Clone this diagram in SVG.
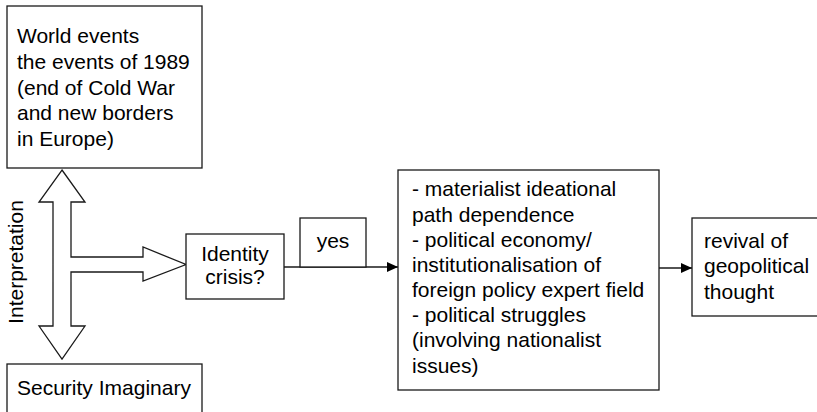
<svg xmlns="http://www.w3.org/2000/svg" width="817" height="412" viewBox="0 0 817 412">
<style>
.box{fill:#fff;stroke:#1a1a1a;stroke-width:1.3}
.t{font-family:"Liberation Sans",Arial,sans-serif;font-size:21px;fill:#000}
.ln{fill:none;stroke:#1a1a1a;stroke-width:1.3}
</style>
<defs>
<marker id="ah" viewBox="0 0 11 10" refX="11" refY="5" markerWidth="11" markerHeight="10" markerUnits="userSpaceOnUse" orient="auto">
<path d="M0,0 L11,5 L0,10 Z" fill="#000"/>
</marker>
</defs>
<rect width="817" height="412" fill="#fff"/>
<g id="connectors">
<polygon class="ln" points="62,170 85,202 71,202 71,257 143,257 143,247 186,264.5 143,281 143,272 71,272 71,326 85,326 62,359 39,326 53,326 53,202 39,202"/>
<line class="ln" x1="284" y1="267" x2="398" y2="267" marker-end="url(#ah)"/>
<line class="ln" x1="659" y1="268" x2="692" y2="268" marker-end="url(#ah)"/>
<text class="t" text-anchor="middle" transform="translate(23,262) rotate(-90)">Interpretation</text>
</g>
<g id="world">
<rect class="box" x="7" y="6" width="195" height="162"/>
<text class="t" x="17" y="43">World events</text>
<text class="t" x="17" y="69">the events of 1989</text>
<text class="t" x="17" y="95">(end of Cold War</text>
<text class="t" x="17" y="120">and new borders</text>
<text class="t" x="17" y="146">in Europe)</text>
</g>
<g id="security">
<rect class="box" x="7" y="364" width="195" height="60"/>
<text class="t" x="17" y="395">Security Imaginary</text>
</g>
<g id="identity">
<rect class="box" x="186" y="234" width="98" height="65"/>
<text class="t" x="235" y="261" text-anchor="middle">Identity</text>
<text class="t" x="235" y="284" text-anchor="middle">crisis?</text>
</g>
<g id="yes">
<rect class="box" x="300" y="218" width="66" height="49"/>
<text class="t" x="333" y="248" text-anchor="middle">yes</text>
</g>
<g id="factors">
<rect class="box" x="398" y="170" width="261" height="220"/>
<text class="t" x="412" y="196">- materialist ideational</text>
<text class="t" x="412" y="221.5">path dependence</text>
<text class="t" x="412" y="247">- political economy/</text>
<text class="t" x="412" y="272">institutionalisation of</text>
<text class="t" x="412" y="297">foreign policy expert field</text>
<text class="t" x="412" y="322">- political struggles</text>
<text class="t" x="412" y="347">(involving nationalist</text>
<text class="t" x="412" y="373">issues)</text>
</g>
<g id="revival">
<rect class="box" x="692" y="218" width="130" height="98"/>
<text class="t" x="704" y="248">revival of</text>
<text class="t" x="704" y="273">geopolitical</text>
<text class="t" x="704" y="299">thought</text>
</g>
</svg>
